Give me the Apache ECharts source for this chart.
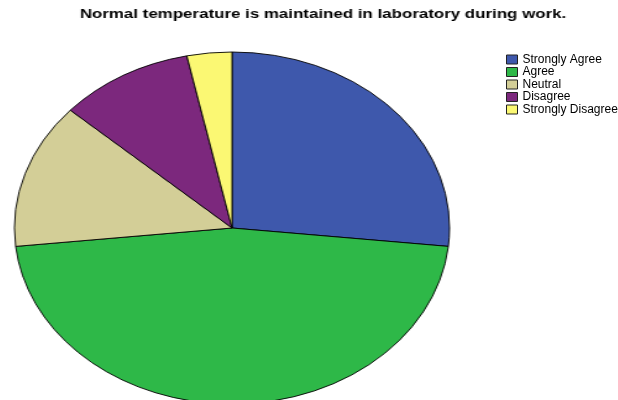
<!DOCTYPE html>
<html>
<head>
<meta charset="utf-8">
<script src="https://cdn.jsdelivr.net/npm/echarts@6/dist/echarts.min.js"></script>
<style>
  html, body { margin: 0; padding: 0; background: #fff; }
  #wrap { position: relative; width: 618px; height: 400px; overflow: hidden; }
  /* pie drawn circular, then stretched sideways to match the elliptical original */
  #pie { position: absolute; left: 51.5px; top: 0; width: 360px; height: 400px;
         transform-origin: 180px 228px; transform: scaleX(1.236); }
  /* title text in the original is stretched the same way */
  #title { position: absolute; left: 14px; top: 0; width: 618px; height: 40px;
           transform-origin: 309px 0; transform: scaleX(1.3); }
  #top { position: absolute; left: 0; top: 0; width: 618px; height: 400px; }
</style>
</head>
<body>
<div id="wrap">
  <div id="pie"></div>
  <div id="title"></div>
  <div id="top"></div>
</div>
<script>
// answer categories and counts
const categories = ['Strongly Agree', 'Agree', 'Neutral', 'Disagree', 'Strongly Disagree'];
const counts = [8, 14, 4, 3, 1];
const colors = ['#3E58AC', '#2EB848', '#D3CE97', '#7C287D', '#FBF873'];

const titleText = 'Normal temperature is maintained in laboratory during work.';

const pieData = categories.map((name, i) => ({ name: name, value: counts[i] }));

// pie chart
const pieChart = echarts.init(document.getElementById('pie'));
pieChart.setOption({
  animation: false,
  color: colors,
  series: [
    {
      name: 'Responses',
      type: 'pie',
      center: [180, 228],
      radius: 176,
      startAngle: 90,
      clockwise: true,
      label: { show: false },
      labelLine: { show: false },
      itemStyle: { borderColor: '#000', borderWidth: 0.9 },
      emphasis: { disabled: true },
      data: pieData,
    },
  ],
});

// title
const titleChart = echarts.init(document.getElementById('title'));
titleChart.setOption({
  animation: false,
  title: {
    text: titleText,
    left: 'center',
    top: 8,
    padding: 0,
    textStyle: {
      fontFamily: 'Liberation Sans, Arial, sans-serif',
      fontSize: 13,
      fontWeight: 'bold',
      color: '#000',
    },
  },
});

// legend on top (not stretched)
const topChart = echarts.init(document.getElementById('top'));
topChart.setOption({
  animation: false,
  color: colors,
  legend: {
    orient: 'vertical',
    left: 506,
    top: 53.5,
    padding: 0,
    itemWidth: 11,
    itemHeight: 9,
    itemGap: 0.5,
    icon: 'rect',
    selectedMode: false,
    itemStyle: { borderColor: '#222', borderWidth: 1, opacity: 1 },
    textStyle: {
      fontFamily: 'Liberation Sans, Arial, sans-serif',
      fontSize: 12,
      lineHeight: 12,
      color: '#000',
    },
    data: categories,
  },
  series: [
    {
      type: 'pie',
      radius: 0,
      silent: true,
      label: { show: false },
      labelLine: { show: false },
      data: pieData,
    },
  ],
});
</script>
</body>
</html>
